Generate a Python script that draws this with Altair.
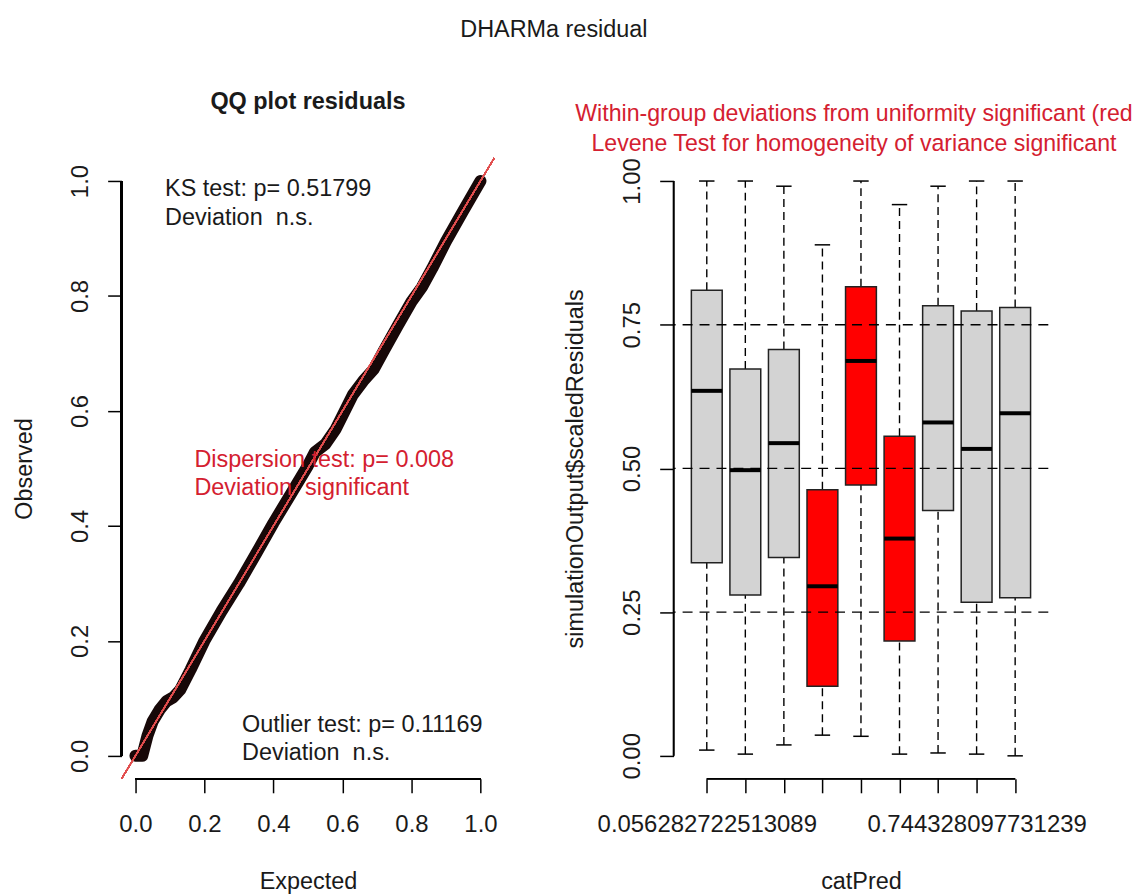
import json
import altair as alt
import pandas as pd

FONT = "Liberation Sans"
FS = 23.5
FS_TICK = 24
TXT = "#1a1a1a"
RED_TXT = "#D42030"

# ---------------- QQ plot data ----------------
qq_expected = [0.000, 0.020, 0.035, 0.050, 0.070, 0.090, 0.110, 0.130, 0.160, 0.200,
               0.250, 0.300, 0.350, 0.400, 0.450, 0.500, 0.520, 0.550, 0.580, 0.600,
               0.630, 0.660, 0.690, 0.720, 0.760, 0.800, 0.830, 0.860, 0.900, 0.950, 1.000]
qq_observed = [0.000, 0.000, 0.035, 0.060, 0.080, 0.095, 0.102, 0.115, 0.150, 0.200,
               0.252, 0.300, 0.352, 0.405, 0.455, 0.505, 0.528, 0.542, 0.568, 0.592,
               0.628, 0.652, 0.672, 0.705, 0.748, 0.790, 0.815, 0.848, 0.895, 0.948, 1.000]

ks_p = "0.51799"
disp_p = "0.008"
out_p = "0.11169"

# annotation anchors (data units of the QQ panel)
ann_text = [f"KS test: p= {ks_p}", "Deviation\u00a0 n.s.",
            f"Dispersion test: p= {disp_p}", "Deviation\u00a0 significant",
            f"Outlier test: p= {out_p}", "Deviation\u00a0 n.s."]
ann_x = [0.086, 0.086, 0.171, 0.171, 0.309, 0.309]
ann_y = [0.974, 0.924, 0.503, 0.454, 0.0415, -0.007]
ann_col = [TXT, TXT, RED_TXT, RED_TXT, TXT, TXT]

# ---------------- Boxplot data ----------------
groups = [1, 2, 3, 4, 5, 6, 7, 8, 9]
tick_labels = ["0.056282722513089", "", "", "", "", "", "", "0.744328097731239", ""]
whisk_lo = [0.010, 0.003, 0.019, 0.036, 0.034, 0.003, 0.005, 0.003, 0.000]
q1 = [0.336, 0.280, 0.345, 0.121, 0.471, 0.200, 0.427, 0.267, 0.275]
median = [0.635, 0.497, 0.544, 0.295, 0.687, 0.378, 0.580, 0.534, 0.596]
q3 = [0.810, 0.673, 0.707, 0.463, 0.816, 0.556, 0.783, 0.774, 0.780]
whisk_hi = [1.000, 1.000, 0.991, 0.889, 1.000, 0.959, 0.991, 1.000, 1.000]
significant = [False, False, False, True, True, True, False, False, False]
ref_lines = [0.25, 0.5, 0.75]

W_L, W_R, H = 374, 376, 623

qq_df = pd.DataFrame({"expected": qq_expected, "observed": qq_observed})
ann_df = pd.DataFrame({"x": ann_x, "y": ann_y, "text": ann_text, "col": ann_col})
box_df = pd.DataFrame({"idx": groups, "lo": whisk_lo, "q1": q1, "med": median,
                       "q3": q3, "hi": whisk_hi, "sig": significant})
ref_df = pd.DataFrame({"h": ref_lines})

def axis_common(**kw):
    base = dict(domain=False, grid=False, ticks=True, tickSize=14, tickWidth=1.5,
                tickColor="black", labelFont=FONT, labelFontSize=FS_TICK, labelColor=TXT,
                titleFont=FONT, titleFontSize=FS, titleColor=TXT, titleFontWeight="normal",
                labelFlush=False, labelOverlap=False, labelBound=False, labelLimit=400)
    base.update(kw)
    return alt.Axis(**base)

# ---------------- Left: QQ plot ----------------
xs = alt.Scale(domain=[-0.04, 1.04], nice=False, zero=False)
ys = alt.Scale(domain=[-0.04, 1.04], nice=False, zero=False)

x_ax = axis_common(values=[0, 0.2, 0.4, 0.6, 0.8, 1.0], format=".1f", labelPadding=20,
                   title="Expected", titleX=W_L / 2, titleY=110, titleBaseline="alphabetic",
                   titleAlign="center")
y_ax = axis_common(values=[0, 0.2, 0.4, 0.6, 0.8, 1.0], format=".1f", labelAngle=270,
                   labelAlign="center", labelBaseline="bottom", labelPadding=15,
                   title="Observed", titleX=-90, titleY=H / 2, titleAngle=270,
                   titleBaseline="alphabetic", titleAlign="center")

band = alt.Chart(qq_df).mark_line(color="#170808", strokeWidth=12, strokeCap="round",
                                  strokeJoin="round").encode(
    x=alt.X("expected:Q", scale=xs, axis=x_ax),
    y=alt.Y("observed:Q", scale=ys, axis=y_ax),
    order="expected:Q",
)
diag = alt.Chart(qq_df).mark_rule(color="#E05050", strokeWidth=1.1).encode(
    x=alt.datum(-0.04), y=alt.datum(-0.04), x2=alt.datum(1.04), y2=alt.datum(1.04))
lax_y = alt.Chart(qq_df).mark_rule(color="black", strokeWidth=1.5).encode(
    x=alt.value(0), y=alt.datum(0), y2=alt.datum(1))
lax_x = alt.Chart(qq_df).mark_rule(color="black", strokeWidth=1.5).encode(
    y=alt.value(H), x=alt.datum(0), x2=alt.datum(1))
ann = alt.Chart(ann_df).mark_text(align="left", baseline="alphabetic", font=FONT,
                                  fontSize=FS).encode(
    x="x:Q", y="y:Q", text="text:N", color=alt.Color("col:N", scale=None))

left = alt.layer(band, diag, lax_y, lax_x, ann).properties(
    width=W_L, height=H,
    title=alt.TitleParams("QQ plot residuals", font=FONT, fontSize=FS, fontWeight="bold",
                          color=TXT, anchor="middle", frame="group", baseline="alphabetic",
                          offset=25),
)

# ---------------- Right: boxplot ----------------
bxs = alt.Scale(domain=[0.14, 9.86], nice=False, zero=False)
bys = alt.Scale(domain=[-0.04, 1.04], nice=False, zero=False)
labels_js = json.dumps(tick_labels)

bx_ax = axis_common(values=groups, labelExpr=f"{labels_js}[datum.value - 1]", labelPadding=20,
                    title="catPred", titleX=W_R / 2, titleY=110, titleBaseline="alphabetic",
                    titleAlign="center")
by_ax = axis_common(values=[0, 0.25, 0.5, 0.75, 1.0], format=".2f", labelAngle=270,
                    labelAlign="center", labelBaseline="bottom", labelPadding=15,
                    title="simulationOutput$scaledResiduals", titleX=-91, titleY=H / 2,
                    titleAngle=270, titleBaseline="alphabetic", titleAlign="center")

bbase = alt.Chart(box_df).transform_calculate(
    x_lo="datum.idx - 0.4", x_hi="datum.idx + 0.4",
    c_lo="datum.idx - 0.2", c_hi="datum.idx + 0.2",
    fill="datum.sig ? '#FF0000' : '#D3D3D3'")

whisk_up = bbase.mark_rule(color="black", strokeWidth=1.4, strokeDash=[8, 5]).encode(
    x=alt.X("idx:Q", scale=bxs, axis=bx_ax), y=alt.Y("q3:Q", scale=bys, axis=by_ax), y2="hi:Q")
whisk_dn = bbase.mark_rule(color="black", strokeWidth=1.4, strokeDash=[8, 5]).encode(
    x="idx:Q", y="lo:Q", y2="q1:Q")
cap_up = bbase.mark_rule(color="black", strokeWidth=1.5).encode(
    x="c_lo:Q", x2="c_hi:Q", y="hi:Q")
cap_dn = bbase.mark_rule(color="black", strokeWidth=1.5).encode(
    x="c_lo:Q", x2="c_hi:Q", y="lo:Q")
boxes = bbase.mark_rect(stroke="#222222", strokeWidth=1.5).encode(
    x="x_lo:Q", x2="x_hi:Q", y="q1:Q", y2="q3:Q", fill=alt.Fill("fill:N", scale=None))
meds = bbase.mark_rule(color="black", strokeWidth=4).encode(
    x="x_lo:Q", x2="x_hi:Q", y="med:Q")
hlines = alt.Chart(ref_df).mark_rule(color="black", strokeWidth=1.3, strokeDash=[10, 7]).encode(
    y="h:Q")
rax_y = alt.Chart(ref_df).mark_rule(color="black", strokeWidth=1.5).encode(
    x=alt.value(0), y=alt.datum(0), y2=alt.datum(1))
rax_x = alt.Chart(ref_df).mark_rule(color="black", strokeWidth=1.5).encode(
    y=alt.value(H), x=alt.datum(1), x2=alt.datum(9))

right = alt.layer(whisk_up, whisk_dn, cap_up, cap_dn, boxes, meds, hlines, rax_y, rax_x).properties(
    width=W_R, height=H,
    title=alt.TitleParams(["Within-group deviations from uniformity significant (red",
                           "Levene Test for homogeneity of variance significant"],
                          font=FONT, fontSize=23.2, fontWeight="normal", color=RED_TXT,
                          anchor="middle", frame="group", baseline="alphabetic",
                          lineHeight=30, offset=-16, dx=-7),
)

chart = alt.hconcat(left, right, spacing=180, bounds="flush").properties(
    title=alt.TitleParams("DHARMa residual", font=FONT, fontSize=FS, fontWeight="normal",
                          color=TXT, anchor="middle", baseline="alphabetic", offset=30, dx=-19),
    padding={"left": 5, "top": 8, "right": 0, "bottom": 0},
    background="white",
).configure_view(stroke=None)

chart.save("out.html", embed_options={"renderer": "svg", "actions": False})
